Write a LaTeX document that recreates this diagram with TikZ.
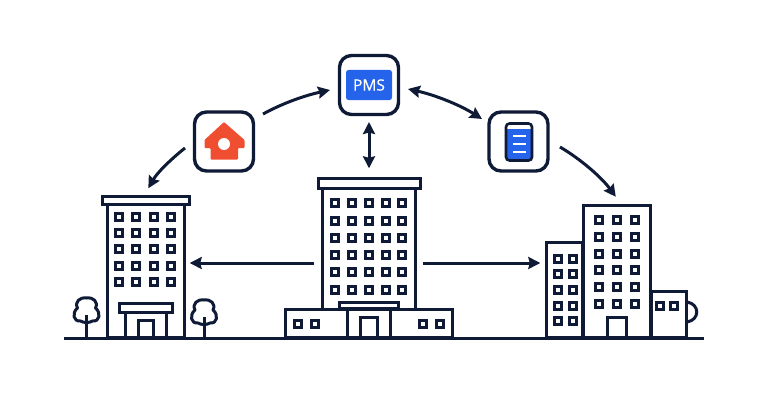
\documentclass[tikz,border=0pt]{standalone}
\usepackage{fontspec}
\newfontfamily\badgefont[FakeBold=0.5]{Open Sans}
\usetikzlibrary{arrows.meta}
\definecolor{ink}{HTML}{0F1B36}
\definecolor{pmsblue}{HTML}{2563EB}
\definecolor{homered}{HTML}{F04E30}
\tikzset{
  x=1pt,y=-1pt,
  ink line/.style={draw=ink,line width=3pt,line join=miter},
  iconbox/.style={draw=ink,line width=3.4pt,rounded corners=12pt,fill=white,minimum width=59pt,minimum height=59pt,inner sep=0pt,outer sep=0pt},
  block/.style={draw=ink,line width=3pt,fill=white,inner sep=0pt,outer sep=0pt},
  link/.style={draw=ink,line width=3pt,-{Stealth[length=12pt,width=12pt,inset=1.5pt]}},
  twoway/.style={draw=ink,line width=3pt,{Stealth[length=12pt,width=12pt,inset=1.5pt]}-{Stealth[length=12pt,width=12pt,inset=1.5pt]}},
  pane/.style={draw=ink,line width=2.9pt,fill=white},
}
% one square window centred on the given point
\newcommand{\pane}[2]{\draw[pane] (#1-3.6,#2-3.6) rectangle (#1+3.6,#2+3.6);}
% a rectangle node placed by its outer edges: name, x0, y0, x1, y1
\newcommand{\blocknode}[5]{%
  \pgfmathsetmacro{\bw}{#4-#2-2.6}\pgfmathsetmacro{\bh}{#5-#3-2.6}%
  \pgfmathsetmacro{\bx}{(#2+#4)/2}\pgfmathsetmacro{\by}{(#3+#5)/2}%
  \node[block,minimum width=\bw pt,minimum height=\bh pt] (#1) at (\bx,\by) {};}
% a tree: crown centre x, crown centre y, ground y
\newcommand{\tree}[3]{%
  \draw[ink line] (#1,#2+5) -- (#1,#3);
  \begin{scope}[shift={(#1,#2)}]
    \draw[ink line,line join=round]
      (-6,11) .. controls (-13,12) and (-15,3) .. (-9,-2)
      .. controls (-12,-8) and (-7,-13) .. (0,-12)
      .. controls (7,-13) and (12,-8) .. (9,-2)
      .. controls (15,3) and (13,12) .. (6,11)
      .. controls (3,13) and (-3,13) .. (-6,11) -- cycle;
  \end{scope}}
\begin{document}
\begin{tikzpicture}
\useasboundingbox (0,0) rectangle (768,404);
\fill[white] (0,0) rectangle (768,404);

% trees, behind the ground line
\tree{86.5}{310}{338}
\tree{204}{312}{338}

% left tower
\blocknode{leftbody}{106}{200}{186}{339}
\blocknode{leftroof}{101}{195}{191}{206}
\foreach \wx in {119,136,154,171}
  \foreach \wy in {217,233,249,266,282} {\pane{\wx}{\wy}}
\blocknode{leftdoorway}{124}{308}{168}{339}
\blocknode{leftcanopy}{118}{302}{174}{314}
\blocknode{leftdoor}{137}{319}{155}{339}

% central tower with podium
\blocknode{midbody}{321}{185}{417}{312}
\blocknode{midroof}{317}{177}{422}{190}
\foreach \wx in {335,352,369,386,402}
  \foreach \wy in {203,221,238,255,272,290} {\pane{\wx}{\wy}}
\blocknode{podium}{284}{308}{454}{339}
\blocknode{midcanopy}{338}{301}{400}{310}
\blocknode{middoorway}{346}{308}{392}{339}
\blocknode{middoor}{359}{316}{379}{339}
\foreach \wx in {298,315,423,440} {\pane{\wx}{324}}

% right cluster
\draw[ink line] (687,302) .. controls (700,304) and (700,320) .. (687,322);
\blocknode{rightlow}{545}{241}{584}{339}
\blocknode{rightmain}{582}{204}{652}{339}
\blocknode{rightannex}{650}{290}{688}{339}
\foreach \wx in {558,573}
  \foreach \wy in {259,274,290,306,321} {\pane{\wx}{\wy}}
\foreach \wx in {599,617,635}
  \foreach \wy in {220,237,254,270,287,304} {\pane{\wx}{\wy}}
\foreach \wx in {660,674} {\pane{\wx}{306}}
\blocknode{rightdoor}{606}{316}{628}{339}

% ground line
\draw[draw=ink,line width=3pt] (64,338) -- (704,338);

% icon boxes
\node[iconbox] (pmsbox) at (369,85) {};
\node[iconbox] (homebox) at (224,141.5) {};
\node[iconbox] (docbox) at (518.5,141.5) {};

% PMS badge
\node[fill=pmsblue,rounded corners=2.5pt,minimum width=46pt,minimum height=30pt,inner sep=0pt,text=white,font=\badgefont\fontsize{15.5}{15.5}\selectfont] (pmstag) at (369,85) {PMS};

% house icon
\fill[homered,rounded corners=0.8pt] (224,122) -- (244.5,140) -- (244.5,148) -- (238,148) -- (238,159.5) -- (210.5,159.5) -- (210.5,148) -- (204.5,148) -- (204.5,140) -- cycle;
\fill[white] (224,144) circle (6);

% document icon
\fill[white,rounded corners=3pt] (506,123) rectangle (532,161);
\fill[pmsblue,rounded corners=2pt] (506,129) rectangle (532,161);
\draw[ink,line width=2.6pt,rounded corners=3.5pt] (506,123.5) rectangle (532,160.5);
\foreach \ly in {136,144,152} \draw[white,line width=1.7pt] (513,\ly) -- (526,\ly);

% connectors
\draw[link] ([shift={(9.5,2)}]homebox.north east) .. controls (285,102) and (307,95) .. ([shift={(-9.5,5)}]pmsbox.west);
\draw[link] ([shift={(-9.5,6.5)}]homebox.west) .. controls (170,160) and (157,173) .. ([shift={(46,-8)}]leftroof.north west);
\draw[twoway] ([shift={(9.5,4)}]pmsbox.east) .. controls (435,95) and (460,105) .. ([shift={(-7,7)}]docbox.north west);
\draw[link] ([shift={(12,5.5)}]docbox.east) .. controls (582,160) and (602,178) .. ([shift={(32.5,-8.5)}]rightmain.north west);
\draw[twoway] ([shift={(0,7.5)}]pmsbox.south) .. controls (369,140) and (369,150) .. ([shift={(-0.5,-10)}]midroof.north);
\draw[link] ([shift={(-8,14.5)}]midbody.west) .. controls (270,263) and (230,263) .. ([shift={(5,-6.5)}]leftbody.east);
\draw[link] ([shift={(7,14.5)}]midbody.east) .. controls (460,263) and (500,263) .. ([shift={(-6,-27)}]rightlow.west);
\end{tikzpicture}
\end{document}
